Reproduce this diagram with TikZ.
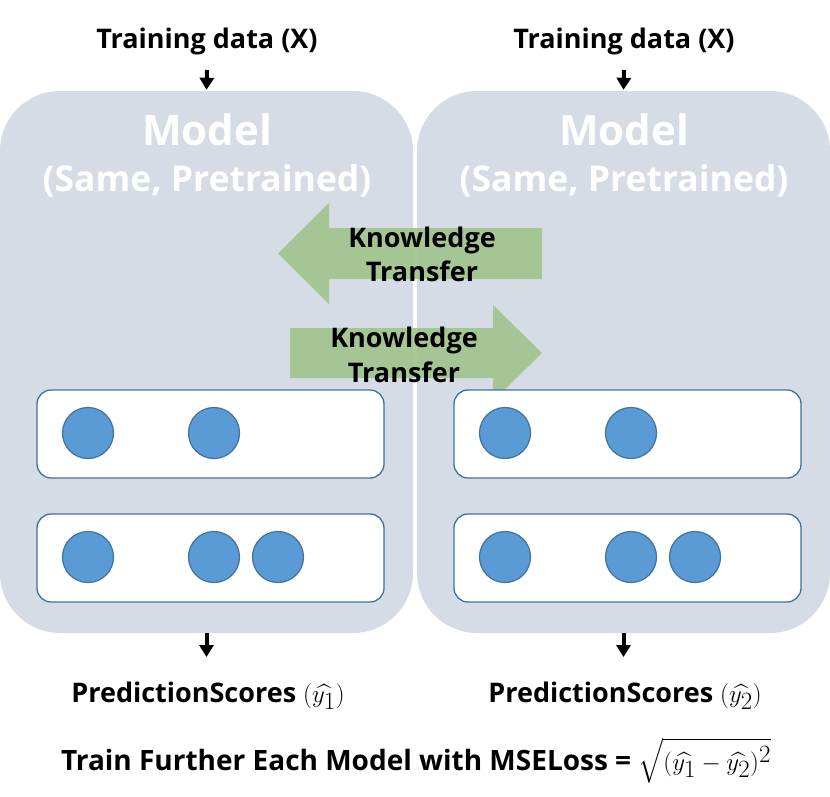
\documentclass[tikz,border=0pt]{standalone}
\usepackage{amsmath}
\usepackage{fontspec}
\setmainfont{Open Sans}
\usetikzlibrary{arrows.meta}
\definecolor{modelbg}{RGB}{214,220,229}
\definecolor{circfill}{RGB}{91,155,213}
\definecolor{circline}{RGB}{65,113,156}
\definecolor{ktgreen}{RGB}{160,195,140}
\newcommand{\bigmath}[1]{{\fontsize{41}{44}\selectfont$#1$}}
\begin{document}
\begin{tikzpicture}[x=1pt,y=-1pt,
  modelbox/.style={fill=modelbg,rounded corners=60pt,minimum width=413pt,minimum height=542pt,inner sep=0pt},
  layerbox/.style={draw=circline,line width=1.3pt,fill=white,rounded corners=14pt,minimum width=347pt,minimum height=88pt,inner sep=0pt},
  neuron/.style={circle,draw=circline,line width=1.2pt,fill=circfill,minimum size=51pt,inner sep=0pt},
  titlebig/.style={text=white,font=\bfseries\fontsize{42}{48}\selectfont,anchor=base,inner sep=0pt},
  titlesmall/.style={text=white,font=\bfseries\fontsize{35.5}{42}\selectfont,anchor=base,inner sep=0pt},
  lbl/.style={font=\bfseries\fontsize{27}{32}\selectfont,anchor=base,inner sep=0pt},
  ktarrow/.style={fill=ktgreen,fill opacity=0.9,draw=none},
  flow/.style={line width=4pt,-{Triangle[width=14pt,length=12pt]}}
]
\useasboundingbox (0,0) rectangle (830,796);
% model boxes
\node[modelbox] (m1) at (206.5,362) {};
\node[modelbox] (m2) at (623.5,362) {};
\node[titlebig] (m1a) at (207,145) {Model};
\node[titlesmall] (m1b) at (207,191) {(Same, Pretrained)};
\node[titlebig] (m2a) at (624,145) {Model};
\node[titlesmall] (m2b) at (624,191) {(Same, Pretrained)};
% knowledge transfer arrows
\fill[ktarrow] (278,253.5) -- (329,203) -- (329,228) -- (542,228) -- (542,279) -- (329,279) -- (329,304) -- cycle;
\fill[ktarrow] (290,328) -- (493,328) -- (493,305) -- (542,353) -- (493,401) -- (493,378) -- (290,378) -- cycle;
\node[lbl] (kt1a) at (422,247) {Knowledge};
\node[lbl] (kt1b) at (422,281) {Transfer};
\node[lbl] (kt2a) at (404,347) {Knowledge};
\node[lbl] (kt2b) at (404,382) {Transfer};
% layer boxes
\node[layerbox] (l11) at (210.5,434) {};
\node[layerbox] (l12) at (210.5,558) {};
\node[layerbox] (l21) at (627.5,434) {};
\node[layerbox] (l22) at (627.5,558) {};
% neurons
\node[neuron] (n111) at (88,433) {};
\node[neuron] (n112) at (214,433) {};
\node[neuron] (n121) at (88,557) {};
\node[neuron] (n122) at (214,557) {};
\node[neuron] (n123) at (278,557) {};
\node[neuron] (n211) at (505,433) {};
\node[neuron] (n212) at (631,433) {};
\node[neuron] (n221) at (505,557) {};
\node[neuron] (n222) at (631,557) {};
\node[neuron] (n223) at (695,557) {};
% labels
\node[lbl] (td1) at (207,48) {Training data (X)};
\node[lbl] (td2) at (624,48) {Training data (X)};
\node[lbl] (p1) at (208,702) {PredictionScores \bigmath{(\widehat{y_1})}};
\node[lbl] (p2) at (625,702) {PredictionScores \bigmath{(\widehat{y_2})}};
\node[lbl,font=\bfseries\fontsize{28}{32}\selectfont] (loss) at (416,770) {Train Further Each Model with MSELoss = \bigmath{\sqrt{(\widehat{y_1}-\widehat{y_2})^2}}};
% flow arrows
\draw[flow] ([yshift=-22pt]td1.base) -- ([yshift=1pt]m1.north);
\draw[flow] ([yshift=-22pt]td2.base) -- ([yshift=1pt]m2.north);
\draw[flow] (m1.south) -- ([yshift=45pt]p1.base -| m1.south);
\draw[flow] (m2.south) -- ([yshift=45pt]p2.base -| m2.south);
\end{tikzpicture}
\end{document}
